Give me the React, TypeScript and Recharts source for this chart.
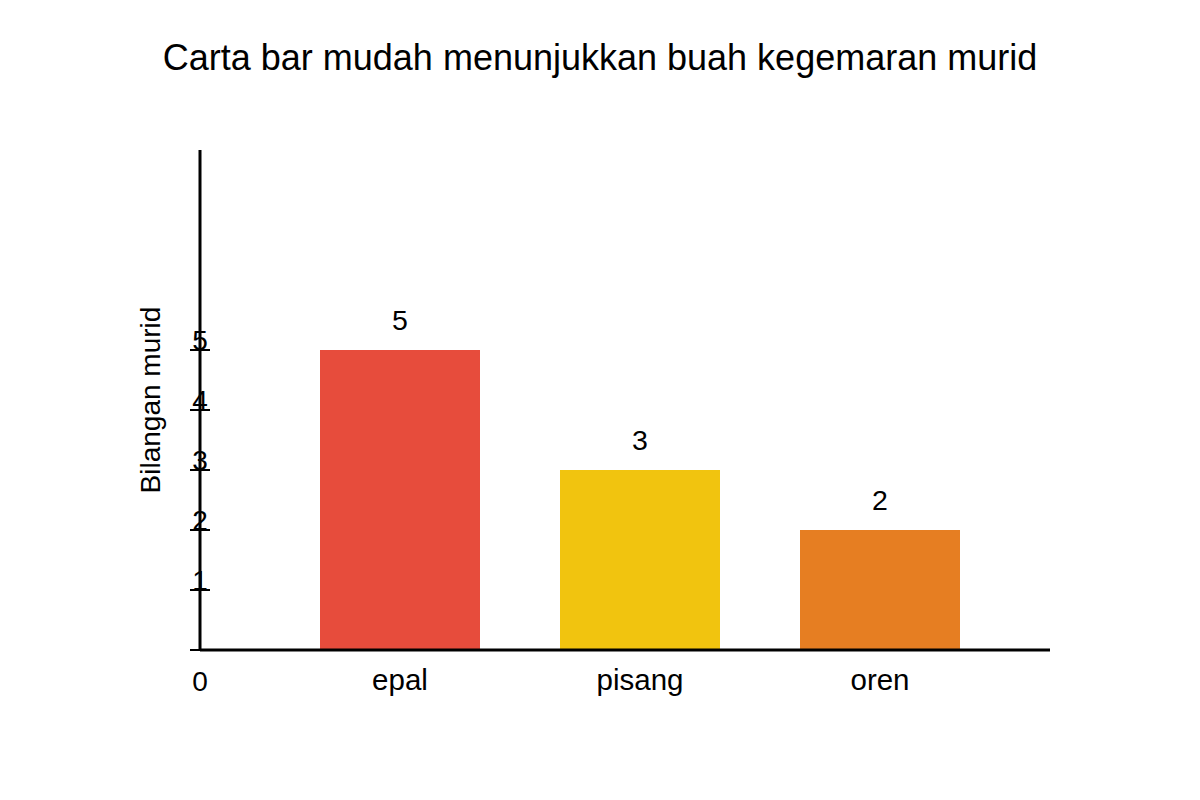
import { BarChart, Bar, XAxis, YAxis, Cell, LabelList, Label } from "recharts";

const fruits = ["epal", "pisang", "oren"];
const students = [5, 3, 2];
const barColors = ["#E74C3C", "#F1C40F", "#E67E22"];
const yTicks = [0, 1, 2, 3, 4, 5];
const yMax = 25 / 3;

const data = fruits.map((name, i) => ({ name, value: students[i] }));

const FONT = '"Liberation Sans", Arial, sans-serif';

function YTick({ x, y, payload }: any) {
  const v = payload.value;
  return (
    <g>
      <line x1={x - 10} x2={x + 10} y1={y} y2={y} stroke="#000" strokeWidth={2} />
      <text x={x} y={v === 0 ? y + 41 : y} textAnchor="middle" fontSize={28} fill="#000" fontFamily={FONT}>
        {v}
      </text>
    </g>
  );
}

function XTick({ x, y, payload }: any) {
  return (
    <text x={x} y={y + 40} textAnchor="middle" fontSize={29.5} fill="#000" fontFamily={FONT}>
      {payload.value}
    </text>
  );
}

function ValueLabel({ x, y, width, value }: any) {
  return (
    <text x={x + width / 2} y={y - 20} textAnchor="middle" fontSize={28.5} fill="#000" fontFamily={FONT}>
      {value}
    </text>
  );
}

function YTitle({ viewBox }: any) {
  const cx = viewBox.x + viewBox.width / 2;
  const cy = viewBox.y + viewBox.height / 2;
  return (
    <text
      x={cx}
      y={cy}
      transform={`rotate(-90 ${cx} ${cy})`}
      textAnchor="middle"
      dominantBaseline="central"
      fontSize={28}
      fill="#000"
      fontFamily={FONT}
    >
      Bilangan murid
    </text>
  );
}

export default function App() {
  return (
    <div style={{ position: "absolute", left: 0, top: 0, width: 1200, height: 800, background: "#fff", fontFamily: FONT }}>
      <div
        style={{
          position: "absolute",
          top: 40,
          left: 0,
          width: 1200,
          textAlign: "center",
          fontSize: 36,
          lineHeight: 1,
          color: "#000",
        }}
      >
        Carta bar mudah menunjukkan buah kegemaran murid
      </div>
      <BarChart width={1200} height={800} data={data} margin={{ top: 150, right: 150, bottom: 100, left: 100 }}>
        <XAxis
          dataKey="name"
          height={50}
          padding={{ left: 80, right: 50 }}
          axisLine={{ stroke: "#000", strokeWidth: 3 }}
          tickLine={false}
          tickSize={0}
          tickMargin={0}
          tick={<XTick />}
          interval={0}
        />
        <YAxis
          type="number"
          width={100}
          domain={[0, yMax]}
          ticks={yTicks}
          allowDataOverflow
          axisLine={{ stroke: "#000", strokeWidth: 3 }}
          tickLine={false}
          tickSize={0}
          tickMargin={0}
          tick={<YTick />}
          interval={0}
        >
          <Label content={<YTitle />} />
        </YAxis>
        <Bar dataKey="value" barSize={160} isAnimationActive={false}>
          {data.map((d, i) => (
            <Cell key={d.name} fill={barColors[i]} />
          ))}
          <LabelList dataKey="value" content={<ValueLabel />} />
        </Bar>
      </BarChart>
    </div>
  );
}
